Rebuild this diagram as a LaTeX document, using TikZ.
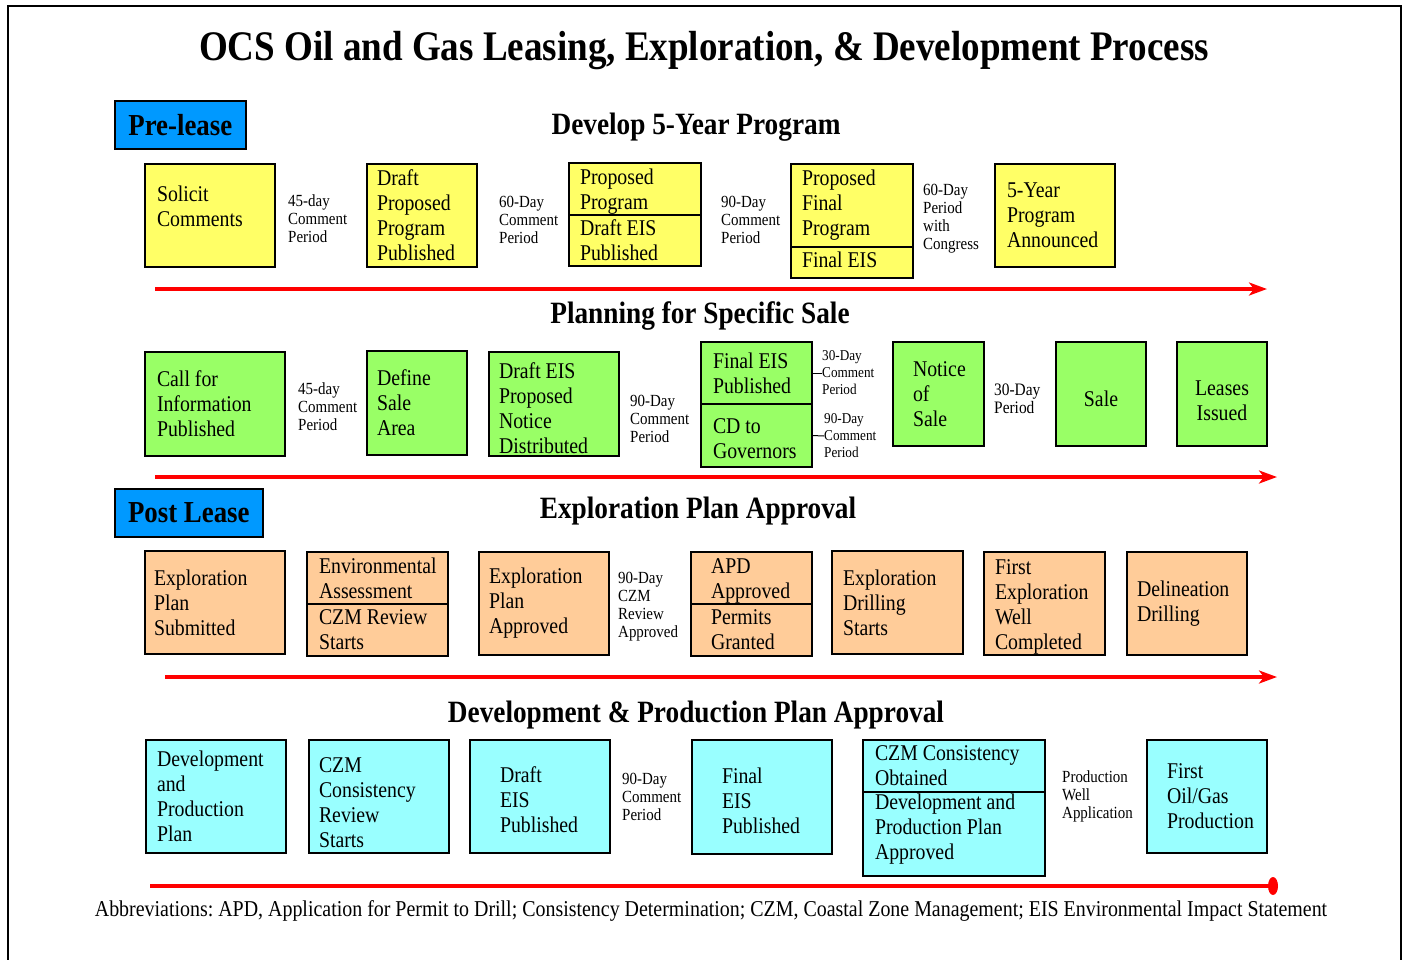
\documentclass[tikz,border=0pt]{standalone}
\usepackage{fontspec}
\setmainfont{Liberation Serif}[FakeStretch=0.88]
\usetikzlibrary{positioning, calc, arrows.meta, shapes.geometric}

\definecolor{boxyellow}{RGB}{255,255,102}
\definecolor{boxgreen}{RGB}{153,255,102}
\definecolor{boxorange}{RGB}{255,204,153}
\definecolor{boxcyan}{RGB}{153,255,255}
\definecolor{phaseblue}{RGB}{0,153,255}

\tikzset{
	stepbox/.style={draw=black, line width=1.6pt, rectangle, inner ysep=0pt, outer sep=0pt, align=flush left, anchor=north west, font=\fontsize{22.5}{25}\selectfont},
	gaptext/.style={inner sep=0pt, anchor=west, align=flush left, font=\fontsize{17}{18}\selectfont},
	phase/.style={draw=black, line width=1.6pt, fill=phaseblue, anchor=north west, inner sep=0pt, font=\bfseries\fontsize{30.5}{32}\selectfont},
	heading/.style={anchor=base, inner sep=0pt, font=\bfseries\fontsize{31}{33}\selectfont},
	timeline/.style={draw=red, line width=4pt}
}

\begin{document}
\frenchspacing
\begin{tikzpicture}[x=1pt, y=-1pt]
	\useasboundingbox (0,0) rectangle (1406,959);
	\fill[white] (0,0) rectangle (1406,959);
	\draw[line width=2pt] (8,975) -- (8,6) -- (1401,6) -- (1401,975);

	\node[anchor=base, inner sep=0pt, font=\bfseries\fontsize{42.1}{46}\selectfont] (title) at (704,60) {OCS Oil and Gas Leasing, Exploration, \& Development Process};

	% pre-lease
	\node[phase, minimum width=131pt, minimum height=48pt] (prelease) at (114,100) {Pre-lease};
	\node[heading] (h1) at (696,134) {Develop 5-Year Program};

	\node[stepbox, fill=boxyellow, text width=106pt, inner xsep=12pt, minimum height=103pt] (solicit) at (145,164) {Solicit\\Comments\\[-6pt]\mbox{}};
	\node[gaptext] (g11) at (288,219) {45-day\\Comment\\Period};
	\node[stepbox, fill=boxyellow, text width=90pt, inner xsep=10pt, minimum height=103pt] (draftprog) at (367,164) {Draft\\Proposed\\Program\\Published};
	\node[gaptext] (g12) at (499,219.5) {60-Day\\Comment\\Period};
	\node[stepbox, fill=boxyellow, text width=110pt, inner xsep=11pt, minimum height=52pt] (propprog) at (569,163) {\mbox{}\\[-4.5pt]Proposed\\Program};
	\node[stepbox, fill=boxyellow, text width=110pt, inner xsep=11pt, minimum height=51pt, below=0pt of propprog] (drafteisa) {Draft EIS\\Published};
	\node[gaptext] (g13) at (721,219.5) {90-Day\\Comment\\Period};
	\node[stepbox, fill=boxyellow, text width=100pt, inner xsep=11pt, minimum height=83pt] (propfinal) at (791,164) {Proposed\\Final\\Program};
	\node[stepbox, fill=boxyellow, text width=100pt, inner xsep=11pt, minimum height=31pt, below=0pt of propfinal] (finaleisa) {Final EIS\\[-19pt]\mbox{}};
	\node[gaptext] (g14) at (923,218.5) {60-Day\\Period\\with\\Congress};
	\node[stepbox, fill=boxyellow, text width=96pt, inner xsep=12pt, minimum height=103pt] (fiveyear) at (995,164) {5-Year\\Program\\Announced};

	\coordinate (t1s) at (155,289);
	\coordinate (t1e) at (1267,289);
	\draw[timeline, -{Stealth[length=18pt, width=13pt, inset=5pt]}] (t1s) -- (t1e);

	% specific sale
	\node[heading] (h2) at (700,323) {Planning for Specific Sale};

	\node[stepbox, fill=boxgreen, text width=116pt, inner xsep=12pt, minimum height=104pt] (callinfo) at (145,352) {Call for\\Information\\Published};
	\node[gaptext] (g21) at (298,407) {45-day\\Comment\\Period};
	\node[stepbox, fill=boxgreen, text width=80pt, inner xsep=10pt, minimum height=104pt] (definesale) at (367,351) {Define\\Sale\\Area};
	\node[stepbox, fill=boxgreen, text width=110pt, inner xsep=10pt, minimum height=104pt] (drafteisb) at (489,352) {\mbox{}\\[-0.5pt]Draft EIS\\Proposed\\Notice\\Distributed};
	\node[gaptext] (g22) at (630,418.5) {90-Day\\Comment\\Period};
	\node[stepbox, fill=boxgreen, text width=87pt, inner xsep=12pt, minimum height=62pt] (finaleisb) at (701,342) {Final EIS\\Published};
	\node[stepbox, fill=boxgreen, text width=87pt, inner xsep=12pt, minimum height=63pt, below=0pt of finaleisb] (cdgov) {\mbox{}\\[-3.5pt]CD to\\Governors};
	\node[gaptext, font=\fontsize{15}{17}\selectfont] (g23) at (822,373) {30-Day\\Comment\\Period};
	\node[gaptext, font=\fontsize{15}{17}\selectfont] (g24) at (824,436) {90-Day\\Comment\\Period};
	\draw[line width=1pt] (finaleisb.east) -- (g23.west);
	\draw[line width=1pt] (cdgov.east) -- (g24.west);
	\node[stepbox, fill=boxgreen, text width=51pt, inner xsep=20pt, minimum height=104pt] (noticesale) at (893,342) {Notice\\of\\Sale};
	\node[gaptext, font=\fontsize{17.5}{18}\selectfont] (g25) at (994,399) {30-Day\\Period};
	\node[stepbox, fill=boxgreen, text width=70pt, inner xsep=10pt, minimum height=104pt, align=center] (sale) at (1056,342) {\mbox{}\\[0.5pt]Sale};
	\node[stepbox, fill=boxgreen, text width=70pt, inner xsep=10pt, minimum height=104pt, align=center] (leases) at (1177,342) {\mbox{}\\[2.5pt]Leases\\Issued};

	\coordinate (t2s) at (155,477);
	\coordinate (t2e) at (1277,477);
	\draw[timeline, -{Stealth[length=18pt, width=13pt, inset=5pt]}] (t2s) -- (t2e);

	% post lease
	\node[phase, minimum width=148pt, minimum height=48pt] (postlease) at (114,488) {Post Lease};
	\node[heading] (h3) at (698,518) {Exploration Plan Approval};

	\node[stepbox, fill=boxorange, text width=122pt, inner xsep=9pt, minimum height=103pt] (expsub) at (145,551) {Exploration\\Plan\\Submitted};
	\node[stepbox, fill=boxorange, text width=117pt, inner xsep=12pt, minimum height=52pt] (envassess) at (307,552) {Environmental\\Assessment};
	\node[stepbox, fill=boxorange, text width=117pt, inner xsep=12pt, minimum height=52pt, below=0pt of envassess] (czmstart) {CZM Review\\Starts};
	\node[stepbox, fill=boxorange, text width=110pt, inner xsep=10pt, minimum height=103pt] (expappr) at (479,552) {Exploration\\Plan\\Approved};
	\node[gaptext] (g31) at (618,606.5) {90-Day\\CZM\\Review\\Approved};
	\node[stepbox, fill=boxorange, text width=81pt, inner xsep=20pt, minimum height=52pt] (apdappr) at (691,552) {\mbox{}\\[-3.5pt]APD\\Approved};
	\node[stepbox, fill=boxorange, text width=81pt, inner xsep=20pt, minimum height=52pt, below=0pt of apdappr] (permits) {Permits\\Granted};
	\node[stepbox, fill=boxorange, text width=109pt, inner xsep=11pt, minimum height=103pt] (expdrill) at (832,551) {Exploration\\Drilling\\Starts};
	\node[stepbox, fill=boxorange, text width=99pt, inner xsep=11pt, minimum height=103pt] (firstwell) at (984,552) {\mbox{}\\[-3.5pt]First\\Exploration\\Well\\Completed};
	\node[stepbox, fill=boxorange, text width=100pt, inner xsep=10pt, minimum height=103pt] (delin) at (1127,552) {Delineation\\Drilling};

	\coordinate (t3s) at (165,677);
	\coordinate (t3e) at (1277,677);
	\draw[timeline, -{Stealth[length=18pt, width=13pt, inset=5pt]}] (t3s) -- (t3e);

	% development and production
	\node[heading] (h4) at (696,722) {Development \& Production Plan Approval};

	\node[stepbox, fill=boxcyan, text width=118pt, inner xsep=11pt, minimum height=113pt] (devplan) at (146,740) {Development\\and\\Production\\Plan};
	\node[stepbox, fill=boxcyan, text width=120pt, inner xsep=10pt, minimum height=113pt] (czmreview) at (309,740) {\mbox{}\\[2.5pt]CZM\\Consistency\\Review\\Starts};
	\node[stepbox, fill=boxcyan, text width=80pt, inner xsep=30pt, minimum height=113pt] (drafteisc) at (470,740) {\mbox{}\\[-2.5pt]Draft\\EIS\\Published};
	\node[gaptext] (g41) at (622,796.5) {90-Day\\Comment\\Period};
	\node[stepbox, fill=boxcyan, text width=80pt, inner xsep=30pt, minimum height=114pt] (finaleisc) at (692,740) {\mbox{}\\[-1.5pt]Final\\EIS\\Published};
	\node[stepbox, fill=boxcyan, text width=158pt, inner xsep=12pt, minimum height=52pt] (czmobt) at (863,740) {CZM Consistency\\Obtained};
	\node[stepbox, fill=boxcyan, text width=158pt, inner xsep=12pt, minimum height=84pt, below=0pt of czmobt] (devappr) {Development and\\Production Plan\\Approved\\[-10pt]\mbox{}};
	\node[gaptext] (g42) at (1062,796.5) {Production\\Well\\Application};
	\node[stepbox, fill=boxcyan, text width=80pt, inner xsep=20pt, minimum height=113pt] (firstoil) at (1147,740) {First\\Oil/Gas\\Production};

	\coordinate (t4s) at (150,886);
	\node[ellipse, fill=red, minimum width=10pt, minimum height=18pt, inner sep=0pt] (enddot) at (1273,886) {};
	\draw[timeline] (t4s) -- (enddot);

	\node[anchor=base, inner sep=0pt, font=\fontsize{22.65}{24}\selectfont] (abbrev) at (711,916) {Abbreviations: APD, Application for Permit to Drill; Consistency Determination; CZM, Coastal Zone Management; EIS Environmental Impact Statement};
\end{tikzpicture}
\end{document}
